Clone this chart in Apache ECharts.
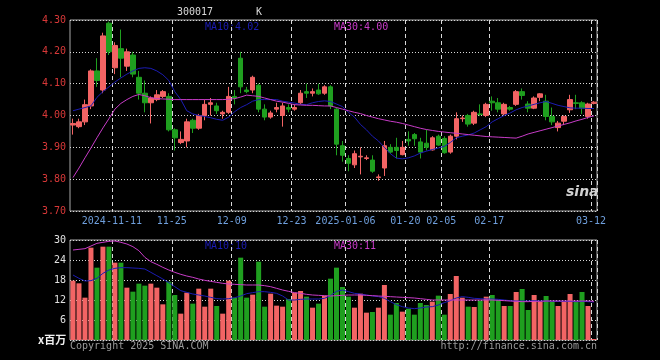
<!DOCTYPE html>
<html><head><meta charset="utf-8">
<script src="https://cdn.jsdelivr.net/npm/echarts@6/dist/echarts.min.js"></script>
<style>html,body{margin:0;padding:0;background:#000;}#c{width:660px;height:360px;}</style>
</head><body><div id="c"></div>
<script>
const dates = ['2024-10-31','2024-11-01','2024-11-04','2024-11-05','2024-11-06','2024-11-07','2024-11-08','2024-11-11','2024-11-12','2024-11-13','2024-11-14','2024-11-15','2024-11-18','2024-11-19','2024-11-20','2024-11-21','2024-11-22','2024-11-25','2024-11-26','2024-11-27','2024-11-28','2024-11-29','2024-12-02','2024-12-03','2024-12-04','2024-12-05','2024-12-06','2024-12-09','2024-12-10','2024-12-11','2024-12-12','2024-12-13','2024-12-16','2024-12-17','2024-12-18','2024-12-19','2024-12-20','2024-12-23','2024-12-24','2024-12-25','2024-12-26','2024-12-27','2024-12-30','2024-12-31','2025-01-02','2025-01-03','2025-01-06','2025-01-07','2025-01-08','2025-01-09','2025-01-10','2025-01-13','2025-01-14','2025-01-15','2025-01-16','2025-01-17','2025-01-20','2025-01-21','2025-01-22','2025-01-23','2025-01-24','2025-01-27','2025-02-05','2025-02-06','2025-02-07','2025-02-10','2025-02-11','2025-02-12','2025-02-13','2025-02-14','2025-02-17','2025-02-18','2025-02-19','2025-02-20','2025-02-21','2025-02-24','2025-02-25','2025-02-26','2025-02-27','2025-02-28','2025-03-03','2025-03-04','2025-03-05','2025-03-06','2025-03-07','2025-03-10','2025-03-11','2025-03-12'];
const opens  = [3.97,3.965,3.98,4.03,4.14,4.08,4.29,4.15,4.21,4.155,4.19,4.12,4.07,4.04,4.05,4.06,4.06,3.955,3.915,3.92,3.985,3.96,4.00,4.035,4.03,4.005,4.01,4.06,4.18,4.08,4.08,4.095,4.02,3.995,4.02,4.00,4.025,4.02,4.04,4.075,4.07,4.08,4.07,4.09,4.02,3.905,3.865,3.845,3.87,3.865,3.86,3.805,3.835,3.90,3.90,3.877,3.925,3.94,3.917,3.913,3.892,3.935,3.928,3.885,3.935,3.99,4.00,3.976,4.005,4.00,4.045,4.04,4.005,4.025,4.035,4.075,4.036,4.023,4.057,4.045,3.997,3.962,3.982,4.018,4.04,4.04,3.997,4.038];
const closes = [3.975,3.98,4.034,4.14,4.11,4.25,4.20,4.22,4.18,4.20,4.13,4.07,4.04,4.055,4.065,4.075,3.955,3.93,3.925,3.98,3.96,4.00,4.035,4.04,4.015,4.01,4.06,4.055,4.09,4.075,4.12,4.02,3.995,4.008,4.025,4.03,4.02,4.025,4.07,4.07,4.075,4.068,4.09,4.03,3.91,3.875,3.85,3.88,3.872,3.867,3.825,3.807,3.905,3.885,3.89,3.90,3.92,3.927,3.885,3.90,3.93,3.907,3.883,3.935,3.99,3.992,3.973,4.01,4.003,4.035,4.04,4.02,4.035,4.02,4.075,4.063,4.023,4.055,4.068,3.997,3.98,3.976,3.997,4.05,4.038,4.023,4.036,4.042];
const lows   = [3.94,3.96,3.97,4.02,4.09,4.07,4.19,4.13,4.12,4.14,4.12,4.05,4.01,3.975,4.045,4.055,3.95,3.89,3.91,3.90,3.945,3.955,3.985,4.00,4.005,3.99,4.005,4.035,4.07,4.07,4.07,4.01,3.985,3.99,4.01,3.965,4.01,4.015,4.035,4.055,4.06,4.065,4.065,4.02,3.875,3.855,3.825,3.835,3.815,3.86,3.82,3.795,3.81,3.88,3.865,3.875,3.905,3.905,3.865,3.89,3.89,3.905,3.88,3.88,3.925,3.98,3.965,3.97,3.998,3.995,4.015,4.01,4.00,4.015,4.03,4.05,4.01,4.02,4.045,3.985,3.97,3.95,3.97,4.008,4.02,4.005,3.99,4.035];
const highs  = [3.99,3.99,4.05,4.145,4.18,4.26,4.295,4.23,4.27,4.21,4.20,4.14,4.11,4.06,4.08,4.08,4.07,3.96,3.95,3.99,3.99,4.005,4.05,4.055,4.04,4.015,4.09,4.08,4.20,4.09,4.125,4.10,4.035,4.015,4.04,4.04,4.035,4.035,4.08,4.10,4.085,4.10,4.095,4.095,4.025,3.92,3.875,3.89,3.90,3.875,3.875,3.815,3.92,3.91,3.93,3.92,3.95,3.945,3.93,3.955,3.935,3.94,3.935,3.94,4.01,4.00,4.005,4.015,4.035,4.04,4.06,4.055,4.04,4.03,4.08,4.085,4.045,4.06,4.07,4.065,4.025,3.983,4.00,4.065,4.065,4.045,4.04,4.045];
const ma10 = [4.015,4.02,4.025,4.03,4.057,4.075,4.09,4.105,4.118,4.13,4.14,4.148,4.15,4.148,4.14,4.128,4.11,4.075,4.05,4.015,4.005,4.0,3.997,3.993,3.988,3.985,3.995,4.012,4.025,4.034,4.045,4.05,4.05,4.05,4.05,4.045,4.042,4.039,4.035,4.034,4.04,4.044,4.046,4.044,4.036,4.028,4.01,3.995,3.972,3.955,3.935,3.92,3.90,3.88,3.866,3.864,3.867,3.873,3.882,3.888,3.893,3.898,3.903,3.915,3.93,3.935,3.939,3.945,3.955,3.965,3.98,3.99,4.0,4.008,4.018,4.025,4.03,4.035,4.04,4.044,4.038,4.032,4.028,4.024,4.023,4.023,4.022,4.022];
const ma30 = [3.805,3.835,3.867,3.898,3.93,3.961,3.99,4.02,4.038,4.05,4.06,4.066,4.062,4.056,4.053,4.052,4.051,4.05,4.05,4.05,4.05,4.05,4.05,4.05,4.05,4.05,4.051,4.053,4.058,4.064,4.062,4.06,4.055,4.05,4.045,4.042,4.038,4.034,4.033,4.032,4.032,4.031,4.03,4.03,4.025,4.02,4.015,4.01,4.006,4.0,3.995,3.99,3.986,3.982,3.979,3.975,3.97,3.965,3.96,3.956,3.953,3.95,3.948,3.946,3.944,3.942,3.94,3.938,3.936,3.934,3.933,3.932,3.931,3.93,3.929,3.935,3.942,3.947,3.952,3.957,3.962,3.967,3.972,3.977,3.983,3.988,3.994,3.999];
const volumes = [17.8,17.0,12.7,27.7,21.7,28.0,28.0,23.2,23.2,15.7,14.5,16.9,16.3,16.9,15.7,10.7,17.5,13.5,7.9,14.2,10.9,15.4,10.0,15.4,10.2,7.9,17.8,12.7,24.7,12.7,13.6,23.5,10.0,13.9,10.3,10.0,12.3,14.2,14.7,13.0,9.7,10.9,13.3,18.4,21.7,15.9,13.0,9.7,13.9,8.2,8.4,9.7,16.5,7.6,11.1,8.5,9.4,7.6,11.1,10.5,11.5,13.3,7.6,13.8,19.2,12.7,10.0,9.9,11.8,13.0,13.5,12.0,10.2,10.2,14.4,15.3,9.0,13.5,11.5,13.2,11.5,10.2,11.5,13.8,11.5,14.4,10.2,0.3];
const vma10 = [19.5,18.5,17.7,17.8,18.5,20,21,21.5,21.7,21.7,21.6,21.5,21.3,20.3,19.3,18.3,17.2,16,14.8,14.3,13.8,13.5,13.2,12.8,12.4,12.3,12.4,12.7,13.2,13.9,14.2,14.5,14.5,14.3,14.0,13.2,12.0,12.0,12.2,12.3,12.3,12.3,12.5,13.3,14.6,15.0,14.5,14.0,13.8,13.5,13.2,13.0,12.5,11.5,10.6,10.0,9.6,9.4,9.6,9.9,10.0,10.5,11.2,11.8,12.6,13.0,12.8,12.5,12.4,12.3,12.3,12.2,12.0,11.8,11.7,11.7,11.7,11.8,11.7,11.7,11.6,11.6,11.6,11.6,11.5,11.6,11.5,11.4];
const vma30 = [27,27.2,27.4,28.2,29,29.3,29.6,29.7,29.3,28.8,28.0,26.8,24.8,23.5,22.7,21.8,21.0,20.3,19.7,19.2,18.8,18.3,17.9,17.6,17.3,17.0,16.8,16.7,16.6,16.5,16.5,16.5,16.3,16.0,15.5,15.0,14.6,14.2,14.0,13.7,13.5,13.4,13.3,13.2,13.3,13.4,13.5,13.5,13.5,13.4,13.3,13.2,13.1,13.0,12.9,12.8,12.7,12.6,12.4,12.2,12.0,12.0,12.0,12.0,12.0,12.0,12.0,12.0,12.0,12.0,12.0,11.9,11.8,11.7,11.6,11.5,11.5,11.6,11.6,11.7,11.7,11.7,11.7,11.7,11.7,11.7,11.7,11.6];
const tickDates  = ['2024-11-11','2024-11-25','2024-12-09','2024-12-23','2025-01-06','2025-01-20','2025-02-05','2025-02-17','2025-03-12'];
const tickLabels = ['2024-11-11','11-25','12-09','12-23','2025-01-06','01-20','02-05','02-17','03-12'];
const priceTicks = [3.70,3.80,3.90,4.00,4.10,4.20,4.30];
const volTicks = [0,6,12,18,24,30];

const UP = '#f26464', DOWN = '#1f9f1f';
const MA10C = '#1c1cb4', MA30C = '#c83cc8';
const MONO = 'DejaVu Sans Mono';

const candleData = dates.map((d, i) => [opens[i], closes[i], lows[i], highs[i]]);
const volData = volumes.map((v, i) => ({ value: v, itemStyle: { color: closes[i] >= opens[i] ? UP : DOWN } }));
const isTick = (idx, val) => tickDates.indexOf(dates[idx]) >= 0;
const vSplit = { show: true, interval: isTick, lineStyle: { color: '#d8d8d8', type: [4, 3], width: 1 } };
const hSplit = { show: true, lineStyle: { color: '#d8d8d8', type: [1, 2], width: 1 } };

const chart = echarts.init(document.getElementById('c'), null, { renderer: 'canvas' });
chart.setOption({
  backgroundColor: '#000',
  animation: false,
  grid: [
    { left: 70, right: 63, top: 20, height: 191, show: true, borderColor: '#a8a8a8', borderWidth: 1 },
    { left: 70, right: 63, top: 240, height: 100, show: true, borderColor: '#a8a8a8', borderWidth: 1 }
  ],
  xAxis: [
    { type: 'category', gridIndex: 0, data: dates, boundaryGap: true,
      axisLine: { show: false }, axisTick: { show: false },
      axisLabel: { interval: isTick, color: '#6f9fdc', fontFamily: MONO, fontSize: 10, margin: 5, padding: [0, 6, 0, 0],
        formatter: (v) => tickLabels[tickDates.indexOf(v)] || '' },
      splitLine: vSplit },
    { type: 'category', gridIndex: 1, data: dates, boundaryGap: true,
      axisLine: { show: false }, axisTick: { show: false }, axisLabel: { show: false },
      splitLine: vSplit }
  ],
  yAxis: [
    { type: 'value', gridIndex: 0, min: priceTicks[0], max: priceTicks[priceTicks.length - 1], interval: 0.1,
      axisLine: { show: false }, axisTick: { show: false },
      axisLabel: { color: '#d83838', fontFamily: MONO, fontSize: 10, margin: 4, formatter: (v) => v.toFixed(2) },
      splitLine: hSplit },
    { type: 'value', gridIndex: 1, min: volTicks[0], max: volTicks[volTicks.length - 1], interval: 6,
      axisLine: { show: false }, axisTick: { show: false },
      axisLabel: { color: '#e0e0e0', fontFamily: MONO, fontSize: 10, margin: 4, formatter: (v) => v === 0 ? '' : String(v) },
      splitLine: hSplit }
  ],
  series: [
    { type: 'candlestick', xAxisIndex: 0, yAxisIndex: 0, data: candleData, barWidth: 5,
      itemStyle: { color: UP, color0: DOWN, borderColor: UP, borderColor0: DOWN, borderWidth: 1 } },
    { type: 'line', xAxisIndex: 0, yAxisIndex: 0, data: ma10, symbol: 'none', lineStyle: { color: MA10C, width: 1 } },
    { type: 'line', xAxisIndex: 0, yAxisIndex: 0, data: ma30, symbol: 'none', lineStyle: { color: MA30C, width: 1 } },
    { type: 'bar', xAxisIndex: 1, yAxisIndex: 1, data: volData, barWidth: 5 },
    { type: 'line', xAxisIndex: 1, yAxisIndex: 1, data: vma10, symbol: 'none', lineStyle: { color: MA10C, width: 1 } },
    { type: 'line', xAxisIndex: 1, yAxisIndex: 1, data: vma30, symbol: 'none', lineStyle: { color: MA30C, width: 1 } }
  ],
  graphic: [
    { type: 'text', left: 177, top: 7, style: { text: '300017', fill: '#d8d8d8', font: '10px "DejaVu Sans Mono"' } },
    { type: 'text', left: 256, top: 7, style: { text: 'K', fill: '#d8d8d8', font: '10px "DejaVu Sans Mono"' } },
    { type: 'text', left: 205, top: 22, style: { text: 'MA10:4.02', fill: MA10C, font: '10px "DejaVu Sans Mono"' } },
    { type: 'text', left: 334, top: 22, style: { text: 'MA30:4.00', fill: MA30C, font: '10px "DejaVu Sans Mono"' } },
    { type: 'text', left: 205, top: 241, style: { text: 'MA10:10', fill: MA10C, font: '10px "DejaVu Sans Mono"' } },
    { type: 'text', left: 334, top: 241, style: { text: 'MA30:11', fill: MA30C, font: '10px "DejaVu Sans Mono"' } },
    { type: 'text', left: 38, top: 334, style: { text: 'x百万', fill: '#f0f0f0', font: 'bold 11px "Noto Sans CJK SC"' } },
    { type: 'text', left: 70, top: 341, style: { text: 'Copyright 2025 SINA.COM', fill: '#9a9a9a', font: '10px "DejaVu Sans Mono"' } },
    { type: 'text', right: 63, top: 341, style: { text: 'http://finance.sina.com.cn', fill: '#9a9a9a', font: '10px "DejaVu Sans Mono"' } },
    { type: 'text', left: 566, top: 185, style: { text: 'sina', fill: '#d0d0d0', font: 'italic bold 14px "DejaVu Sans"' } }
  ]
});
</script></body></html>
